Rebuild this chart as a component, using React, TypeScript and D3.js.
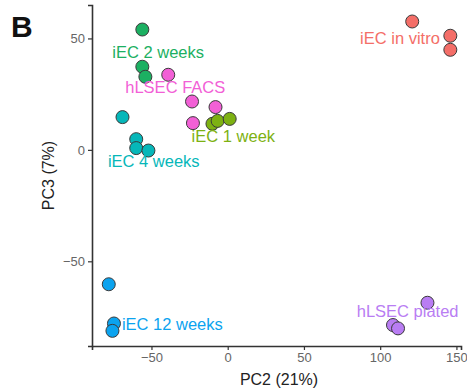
import React, { useEffect, useRef } from 'react';
import * as d3 from 'd3';

// PCA coordinates (PC2, PC3) per sample group
const groups = ['iEC in vitro', 'iEC 1 week', 'iEC 2 weeks', 'iEC 4 weeks', 'iEC 12 weeks', 'hLSEC plated', 'hLSEC FACS'];
const groupColors = ['#F46E68', '#7DB112', '#1CB062', '#06B7B9', '#0BA3EF', '#B97DF3', '#F260D6'];

const pc2 = [121, 146, 146, -10, -6.6, 1.3, -56, -56, -54, -69, -60, -60, -52, -78, -74.6, -75.6, 131, 108.4, 111.7, -39, -23.4, -22.8, -8];
const pc3 = [57.6, 51.2, 44.9, 11.7, 13, 13.9, 54, 37.3, 32.8, 14.7, 4.8, 0.8, -0.3, -60.3, -77.9, -81.2, -68.6, -78.6, -80.1, 33.7, 21.7, 12, 19.2];
const sampleGroup = [0, 0, 0, 1, 1, 1, 2, 2, 2, 3, 3, 3, 3, 4, 4, 4, 5, 5, 5, 6, 6, 6, 6];

// where the group labels sit, in data units
const labelPc2 = [113, 3.7, -45.6, -48.5, -36.3, 118, -34.4];
const labelPc3 = [50.1, 6.3, 43.8, -4.9, -78.3, -72.3, 28.1];

const xTicks = [-50, 0, 50, 100, 150];
const yTicks = [-50, 0, 50];

const W = 467;
const H = 391;

const App: React.FC = () => {
  const svgRef = useRef<SVGSVGElement>(null);

  useEffect(() => {
    if (!svgRef.current) return;
    const svg = d3.select(svgRef.current);
    svg.selectAll('*').remove();

    const x = d3.scaleLinear().domain([-89, 153]).range([92, 461]);
    const y = d3.scaleLinear().domain([-88, 65]).range([346, 5]);

    // Points
    const pts = pc2.map((v, i) => ({ x: v, y: pc3[i], g: sampleGroup[i] }));
    svg.append('g')
      .selectAll('circle')
      .data(pts)
      .enter().append('circle')
      .attr('cx', d => x(d.x))
      .attr('cy', d => y(d.y))
      .attr('r', 6.5)
      .attr('fill', d => groupColors[d.g])
      .attr('stroke', '#3a3a3a')
      .attr('stroke-width', 1);

    // Group labels
    svg.append('g')
      .selectAll('text')
      .data(groups)
      .enter().append('text')
      .attr('x', (_, i) => x(labelPc2[i]))
      .attr('y', (_, i) => y(labelPc3[i]))
      .attr('dy', '0.35em')
      .attr('text-anchor', 'middle')
      .style('font-family', 'Liberation Sans, Arial, sans-serif')
      .style('font-size', '16.5px')
      .attr('fill', (_, i) => groupColors[i])
      .text(d => d);

    // X axis
    const xAxis = svg.append('g')
      .attr('transform', `translate(0,${y(-88)})`)
      .call(d3.axisBottom(x).tickValues(xTicks).tickSizeOuter(0).tickSize(4).tickPadding(3));
    xAxis.select('.domain').attr('stroke', '#333').attr('stroke-width', 1.6);
    xAxis.selectAll('.tick line').attr('stroke', '#333').attr('stroke-width', 1.2);
    xAxis.selectAll('.tick text')
      .attr('fill', '#666')
      .style('font-family', 'Liberation Sans, Arial, sans-serif')
      .style('font-size', '13px');

    // Y axis
    const yAxis = svg.append('g')
      .attr('transform', `translate(${x(-89)},0)`)
      .call(d3.axisLeft(y).tickValues(yTicks).tickSizeOuter(0).tickSize(4).tickPadding(3));
    yAxis.select('.domain').attr('stroke', '#333').attr('stroke-width', 1.6);
    yAxis.selectAll('.tick line').attr('stroke', '#333').attr('stroke-width', 1.2);
    yAxis.selectAll('.tick text')
      .attr('fill', '#666')
      .style('font-family', 'Liberation Sans, Arial, sans-serif')
      .style('font-size', '13px');

    // Axis titles
    svg.append('text')
      .attr('x', 279)
      .attr('y', 385)
      .attr('text-anchor', 'middle')
      .style('font-family', 'Liberation Sans, Arial, sans-serif')
      .style('font-size', '16px')
      .attr('fill', '#222')
      .text('PC2 (21%)');

    svg.append('text')
      .attr('transform', `translate(54,${(y(65) + y(-88)) / 2}) rotate(-90)`)
      .attr('text-anchor', 'middle')
      .style('font-family', 'Liberation Sans, Arial, sans-serif')
      .style('font-size', '16px')
      .attr('fill', '#222')
      .text('PC3 (7%)');

    // Panel letter
    svg.append('text')
      .attr('x', 11)
      .attr('y', 37)
      .style('font-family', 'Liberation Sans, Arial, sans-serif')
      .style('font-size', '30px')
      .style('font-weight', 'bold')
      .attr('fill', '#111')
      .text('B');
  }, []);

  return (
    <svg
      ref={svgRef}
      width={W}
      height={H}
      style={{ position: 'absolute', left: 0, top: 0, background: '#fff' }}
    />
  );
};

export default App;
